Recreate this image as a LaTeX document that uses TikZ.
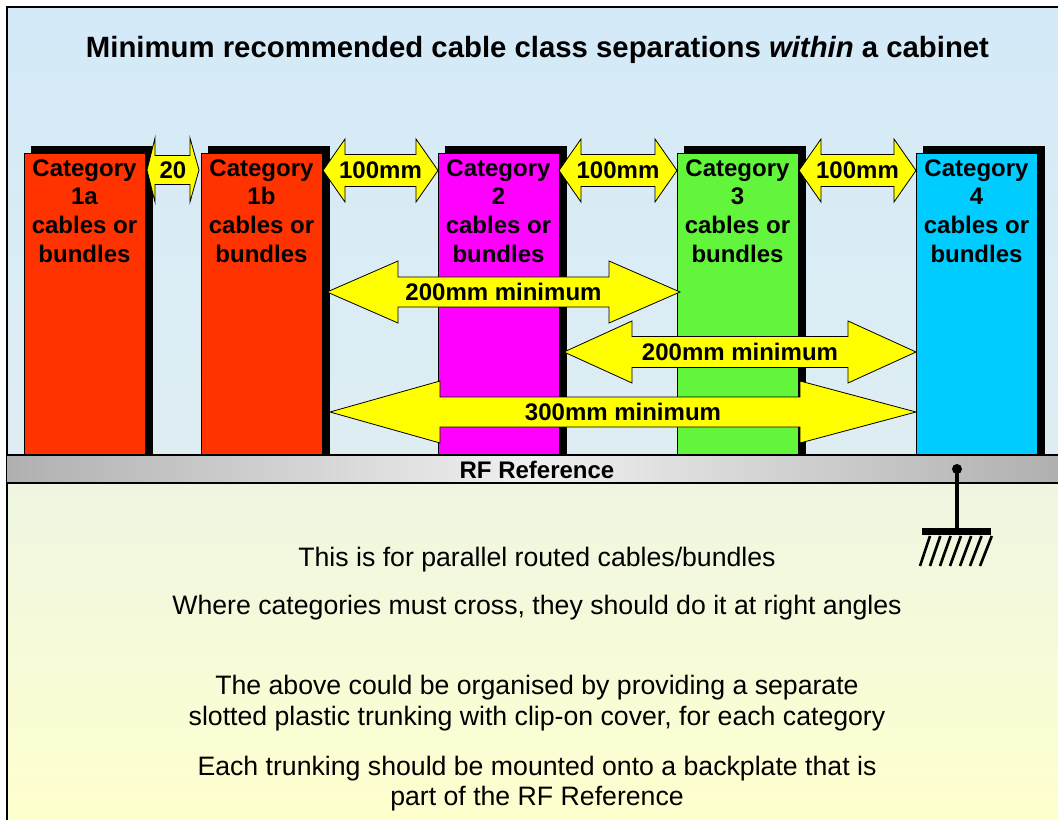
\documentclass[tikz,border=0pt]{standalone}
\usepackage{fontspec}
\setmainfont{Liberation Sans}
\definecolor{skytop}{RGB}{212,234,248}
\definecolor{skybottom}{RGB}{222,237,242}
\definecolor{floortop}{RGB}{238,246,226}
\definecolor{floorbottom}{RGB}{255,255,206}
\definecolor{barside}{RGB}{176,176,176}
\definecolor{barmid}{RGB}{240,240,240}
\definecolor{catred}{RGB}{255,51,0}
\definecolor{catmagenta}{RGB}{255,0,255}
\definecolor{catgreen}{RGB}{98,245,60}
\definecolor{catcyan}{RGB}{0,204,255}
\definecolor{gapyellow}{RGB}{255,255,0}

% one cable category column: shadow, box and four-line label
\newcommand\catcolumn[4]{% name, left x, fill colour, label
  \fill[black] ({#2+7},146) rectangle ({#2+129},455);
  \draw[catbox,fill=#3] (#2,154) rectangle ({#2+121},455);
  \node[catlabel] (#1) at ({#2+60.5},159) {#4};
}
% double-headed block arrow with its label in the middle
\newcommand\gaparrow[9]{% name, xL, xR, yc, headL, headR, headhalf, bodyhalf, text
  \draw[gapshape] (#2,#4) -- ({#2+#5},{#4-#7}) -- ({#2+#5},{#4-#8})
    -- ({#3-#6},{#4-#8}) -- ({#3-#6},{#4-#7}) -- (#3,#4)
    -- ({#3-#6},{#4+#7}) -- ({#3-#6},{#4+#8}) -- ({#2+#5},{#4+#8})
    -- ({#2+#5},{#4+#7}) -- cycle;
  \node[gaplabel] (#1) at ({(#2+#3)/2},#4) {#9};
}

\begin{document}
\begin{tikzpicture}[x=0.75pt,y=-0.75pt,
  catbox/.style={draw=black,line width=0.75pt},
  catlabel/.style={font=\fontsize{18}{21.5}\selectfont\bfseries,align=center,
    anchor=north,inner sep=0pt},
  gapshape/.style={fill=gapyellow,draw=black,line width=0.6pt,line join=miter},
  gaplabel/.style={font=\fontsize{18}{21}\selectfont\bfseries,inner sep=0pt},
  note/.style={font=\fontsize{20}{24}\selectfont,anchor=base,inner sep=0pt},
  groundline/.style={line width=2.4pt,line cap=round}
]
\useasboundingbox (0,0) rectangle (1058,820);

% backgrounds: cabinet space above the reference, panel area below
\shade[top color=skytop,bottom color=skybottom] (7,7) rectangle (1058,455);
\shade[top color=floortop,bottom color=floorbottom] (7,483) rectangle (1058,820);

% outer frame
\draw[line width=1.6pt] (7,825) -- (7,7) -- (1065,7);

% title
\node[font=\fontsize{22}{26}\selectfont\bfseries,anchor=base,inner sep=0pt] (title)
  at (537.5,58) {Minimum recommended cable class separations \textit{within} a cabinet};

% cable category columns
\catcolumn{cat1a}{24}{catred}{Category\\1a\\cables or\\bundles}
\catcolumn{cat1b}{201}{catred}{Category\\1b\\cables or\\bundles}
\catcolumn{cat2}{438}{catmagenta}{Category\\2\\cables or\\bundles}
\catcolumn{cat3}{677}{catgreen}{Category\\3\\cables or\\bundles}
\catcolumn{cat4}{916}{catcyan}{Category\\4\\cables or\\bundles}

% separation arrows
\gaparrow{gap20}{147}{199}{170}{8}{9}{32}{14.5}{20}
\gaparrow{gapA}{323}{438}{170.5}{22}{22}{31.5}{16}{100mm}
\gaparrow{gapB}{559}{677}{170.5}{22}{22}{31.5}{16}{100mm}
\gaparrow{gapC}{799}{916}{170.5}{22}{22}{31.5}{16}{100mm}
\gaparrow{min200a}{327}{680}{292}{71}{71}{31}{15}{200mm minimum}
\gaparrow{min200b}{564}{916}{352}{68}{68}{31}{15.5}{200mm minimum}
\gaparrow{min300}{330}{916}{412}{110}{116}{31}{15}{300mm minimum}

% RF reference bar
\shade[left color=barside,right color=barside,middle color=barmid] (7,455) rectangle (1058,483);
\draw[line width=1.3pt] (7,455) -- (1058,455) (7,483) -- (1058,483);
\node[font=\fontsize{18}{21}\selectfont\bfseries,anchor=base,inner sep=0pt] (rfref)
  at (537,478) {RF Reference};

% earth connection
\coordinate (tap) at (957,469);
\coordinate (earth) at (957,529);
\fill (tap) circle[radius=5];
\draw[groundline] (tap) -- (earth);
\fill (922,528) rectangle (991,535);
\foreach \i in {0,...,6}
  \draw[line width=2pt] ({930+10.3*\i},536) -- ({920+10*\i},566);

% notes
\node[note] (n1) at (537,566) {This is for parallel routed cables/bundles};
\node[note] (n2) at (537,614) {Where categories must cross, they should do it at right angles};
\node[note] (n3) at (537,694) {The above could be organised by providing a separate};
\node[note] (n4) at (537,725) {slotted plastic trunking with clip-on cover, for each category};
\node[note] (n5) at (537,775) {Each trunking should be mounted onto a backplate that is};
\node[note] (n6) at (537,805) {part of the RF Reference};
\end{tikzpicture}
\end{document}
